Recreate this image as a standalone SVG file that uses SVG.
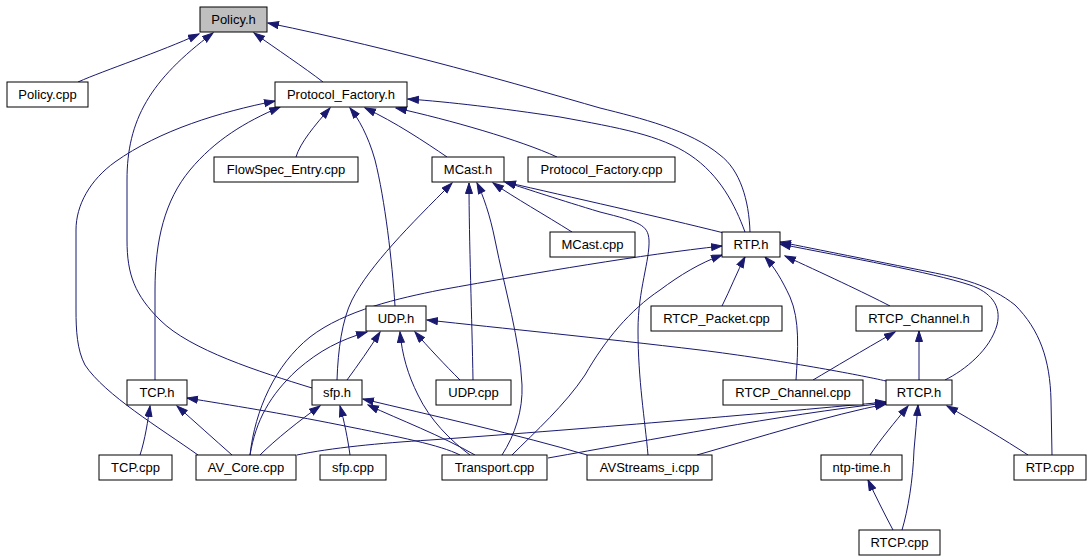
<svg xmlns="http://www.w3.org/2000/svg" width="1091" height="560" viewBox="0 0 1091 560">
<style>
.n rect{fill:#fff;stroke:#000;stroke-width:1}
.n text{font-family:"Liberation Sans",Arial,sans-serif;font-size:13px;text-anchor:middle;fill:#000}
#edges path{fill:none;stroke:#191970;stroke-width:1;marker-end:url(#ah)}
</style>
<defs>
<marker id="ah" markerUnits="userSpaceOnUse" markerWidth="12" markerHeight="10" refX="11" refY="4" orient="auto">
<path d="M0.5,0.5 L11,4 L0.5,7.5 z" fill="#191970" stroke="#191970" stroke-width="1"/>
</marker>
</defs>
<rect width="1091" height="560" fill="#fff"/>
<g id="edges">
<path d="M78,82 C105,70 160,52 199,34"/>
<path d="M323,82 C305,68 275,48 254,33"/>
<path d="M312,388 C260,372 190,350 160,320 C135,295 127,275 127,240 L127,180 C127,120 150,80 213,33"/>
<path d="M750,232 C749,200 740,170 720,155 C690,130 640,118 600,108 C520,85 400,50 268,23"/>
<path d="M745,232 C735,205 720,175 690,155 C660,135 620,128 560,117 C500,108 450,102 408,99"/>
<path d="M557,157 C520,140 450,120 396,108"/>
<path d="M296,157 C300,143 315,125 330,108"/>
<path d="M447,157 C425,142 395,122 365,108"/>
<path d="M395,306 C392,260 385,200 375,160 C368,135 358,118 350,108"/>
<path d="M155,380 L155,290 C155,240 165,200 190,170 C215,140 245,122 280,107"/>
<path d="M198,455 C160,428 105,395 85,365 C77,350 76,330 76,310 L76,230 C76,205 90,180 115,162 C160,130 220,112 275,101"/>
<path d="M572,232 C545,215 515,198 493,183"/>
<path d="M724,233 C660,217 570,197 505,182"/>
<path d="M648,455 C645,420 638,380 638,330 C638,290 650,260 649,240 C648,225 640,222 600,212 C560,200 530,190 505,182"/>
<path d="M337,380 C338,350 342,320 352,300 C370,265 410,225 452,183"/>
<path d="M473,380 C472,320 469,240 469,183"/>
<path d="M502,455 C515,435 523,410 522,385 C520,340 505,290 495,240 C490,215 483,195 477,183"/>
<path d="M250,455 C255,410 275,365 310,337 C345,310 400,298 440,290 C540,272 640,255 722,246"/>
<path d="M512,455 C535,432 565,405 585,375 C605,340 630,310 660,290 C680,275 700,263 722,255"/>
<path d="M722,306 C730,290 737,272 745,257"/>
<path d="M796,380 C798,350 800,320 790,297 C782,280 775,268 765,257"/>
<path d="M890,306 C865,293 820,272 785,256"/>
<path d="M945,380 C965,370 990,350 997,325 C1002,305 990,292 970,285 C930,272 850,258 780,244"/>
<path d="M1052,455 L1051,400 C1050,360 1040,330 1015,305 C990,285 960,278 930,272 C870,260 820,250 780,242"/>
<path d="M813,380 C835,367 860,352 895,332"/>
<path d="M919,380 L919,331"/>
<path d="M886,381 C860,375 780,360 700,350 C600,338 500,328 427,320"/>
<path d="M870,455 C880,440 895,422 908,406"/>
<path d="M902,530 C908,510 913,480 914,450 C915,435 917,420 918,405"/>
<path d="M1028,455 C1005,440 975,422 947,406"/>
<path d="M893,530 C885,515 875,495 868,480"/>
<path d="M297,455 C330,448 380,443 430,440 C600,428 780,412 886,402"/>
<path d="M548,458 C650,440 780,415 886,403"/>
<path d="M697,455 C760,437 830,415 886,404"/>
<path d="M250,455 C256,420 270,395 297,370 C320,350 340,340 367,332"/>
<path d="M260,455 C275,440 300,420 320,406"/>
<path d="M232,455 C215,440 195,422 177,406"/>
<path d="M140,455 C145,440 148,420 150,406"/>
<path d="M347,380 C358,365 370,348 380,332"/>
<path d="M460,380 C445,365 428,347 415,332"/>
<path d="M470,455 C450,440 430,420 418,395 C408,375 402,355 400,332"/>
<path d="M350,455 C348,440 344,420 340,406"/>
<path d="M475,455 C440,435 400,420 368,405"/>
<path d="M587,455 C520,435 430,415 363,399"/>
<path d="M460,455 C440,445 400,437 340,425 C280,413 230,405 187,398"/>
</g>
<g id="policy_h" class="n"><rect x="200" y="7" width="67" height="25" style="fill:#bfbfbf"/><text x="233.5" y="24">Policy.h</text></g>
<g id="policy_cpp" class="n"><rect x="7" y="82" width="81" height="25"/><text x="47.5" y="99">Policy.cpp</text></g>
<g id="protocol_factory_h" class="n"><rect x="275" y="82" width="132" height="25"/><text x="341" y="99">Protocol_Factory.h</text></g>
<g id="flowspec_entry_cpp" class="n"><rect x="214" y="157" width="144" height="25"/><text x="286" y="174">FlowSpec_Entry.cpp</text></g>
<g id="mcast_h" class="n"><rect x="432" y="157" width="72" height="25"/><text x="468" y="174">MCast.h</text></g>
<g id="protocol_factory_cpp" class="n"><rect x="528" y="157" width="147" height="25"/><text x="601.5" y="174">Protocol_Factory.cpp</text></g>
<g id="mcast_cpp" class="n"><rect x="550" y="232" width="85" height="25"/><text x="592.5" y="249">MCast.cpp</text></g>
<g id="rtp_h" class="n"><rect x="722" y="232" width="58" height="25"/><text x="751" y="249">RTP.h</text></g>
<g id="rtcp_packet_cpp" class="n"><rect x="651" y="306" width="131" height="25"/><text x="716.5" y="323">RTCP_Packet.cpp</text></g>
<g id="udp_h" class="n"><rect x="366" y="306" width="60" height="25"/><text x="396" y="323">UDP.h</text></g>
<g id="rtcp_channel_h" class="n"><rect x="856" y="306" width="126" height="25"/><text x="919" y="323">RTCP_Channel.h</text></g>
<g id="tcp_h" class="n"><rect x="127" y="380" width="60" height="25"/><text x="157" y="397">TCP.h</text></g>
<g id="sfp_h" class="n"><rect x="312" y="380" width="50" height="25"/><text x="337" y="397">sfp.h</text></g>
<g id="udp_cpp" class="n"><rect x="436" y="380" width="75" height="25"/><text x="473.5" y="397">UDP.cpp</text></g>
<g id="rtcp_channel_cpp" class="n"><rect x="723" y="380" width="140" height="25"/><text x="793" y="397">RTCP_Channel.cpp</text></g>
<g id="rtcp_h" class="n"><rect x="886" y="380" width="66" height="25"/><text x="919" y="397">RTCP.h</text></g>
<g id="tcp_cpp" class="n"><rect x="99" y="455" width="73" height="25"/><text x="135.5" y="472">TCP.cpp</text></g>
<g id="av_core_cpp" class="n"><rect x="196" y="455" width="100" height="25"/><text x="246" y="472">AV_Core.cpp</text></g>
<g id="sfp_cpp" class="n"><rect x="320" y="455" width="66" height="25"/><text x="353" y="472">sfp.cpp</text></g>
<g id="transport_cpp" class="n"><rect x="442" y="455" width="105" height="25"/><text x="494.5" y="472">Transport.cpp</text></g>
<g id="avstreams_i_cpp" class="n"><rect x="587" y="455" width="125" height="25"/><text x="649.5" y="472">AVStreams_i.cpp</text></g>
<g id="ntp_time_h" class="n"><rect x="821" y="455" width="81" height="25"/><text x="861.5" y="472">ntp-time.h</text></g>
<g id="rtp_cpp" class="n"><rect x="1014" y="455" width="72" height="25"/><text x="1050" y="472">RTP.cpp</text></g>
<g id="rtcp_cpp" class="n"><rect x="859" y="530" width="81" height="25"/><text x="899.5" y="547">RTCP.cpp</text></g>
</svg>
